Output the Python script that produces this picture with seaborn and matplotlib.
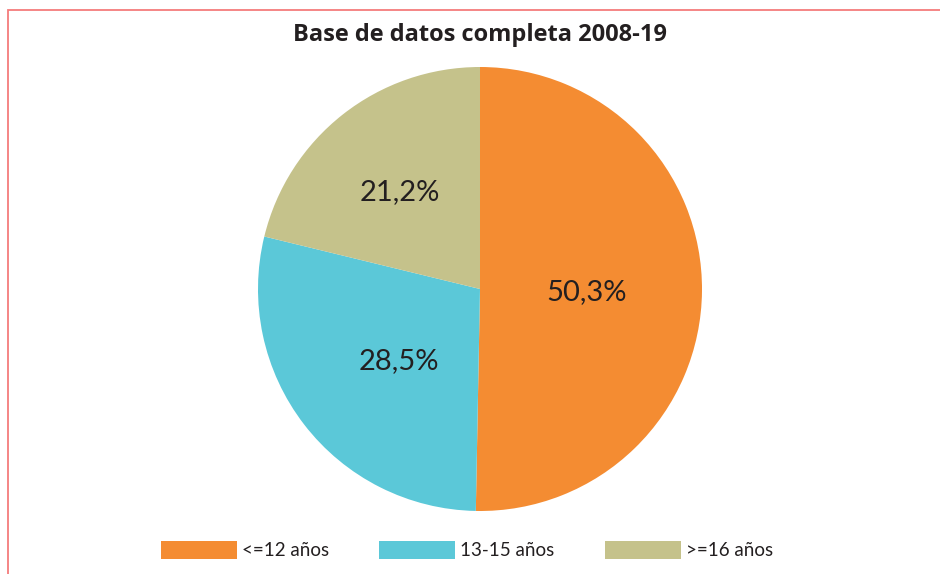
import matplotlib
matplotlib.use("Agg")
import matplotlib.pyplot as plt
import seaborn as sns
from matplotlib.patches import Patch, Rectangle

categories = ["<=12 años", "13-15 años", ">=16 años"]
values = [50.3, 28.5, 21.2]
labels = ["50,3%", "28,5%", "21,2%"]
colors = ["#F48C32", "#5BC8D8", "#C5C28B"]
title = "Base de datos completa 2008-19"

sns.set_theme(style="white")
plt.rcParams['font.family'] = ['Lato', 'DejaVu Sans']

W, H = 940, 574
fig = plt.figure(figsize=(W / 100, H / 100), dpi=100)
fig.patch.set_facecolor("white")

cx, cy, r = 480, 289, 222
ax = fig.add_axes([(cx - r) / W, 1 - (cy + r) / H, 2 * r / W, 2 * r / H])
wedges, texts = ax.pie(values, colors=colors, startangle=90, counterclock=False,
                       labels=labels, labeldistance=0.48,
                       textprops=dict(fontsize=21, color="#231F20"),
                       wedgeprops=dict(linewidth=0))
dists = [0.48, 0.48, 0.57]
nudges = [(0.0, -0.01), (0.015, -0.03), (-0.01, -0.01)]
for t, d, (nx, ny) in zip(texts, dists, nudges):
    x, y = t.get_position()
    s = d / 0.48
    t.set_position((x * s + nx, y * s + ny))
    t.set_ha("center")
    t.set_va("center")
ax.set_xlim(-1, 1)
ax.set_ylim(-1, 1)
ax.set_aspect("equal")
ax.axis("off")

fig.text(cx / W, 1 - 35 / H, title, ha="center", va="center",
         fontsize=17, fontweight="bold", color="#231F20",
         family=["Open Sans", "DejaVu Sans"])

fs = 13.5
px = fs * 100 / 72
handles = [Patch(facecolor=c, edgecolor="none") for c in colors]
leg = fig.legend(handles, categories, loc="center", bbox_to_anchor=(467 / W, 1 - 550 / H),
                 ncol=3, frameon=False, fontsize=fs, handlelength=76 / px, handleheight=21 / px,
                 handletextpad=5 / px, columnspacing=50 / px, labelcolor="#231F20",
                 borderpad=0, borderaxespad=0)

# red frame
fig.add_artist(Rectangle((8 / W, -0.05), 1.2, 1 - 10 / H + 0.05, transform=fig.transFigure,
                         fill=False, edgecolor="#F47C7C", linewidth=1.3))

fig.savefig("out.png", dpi=100)
